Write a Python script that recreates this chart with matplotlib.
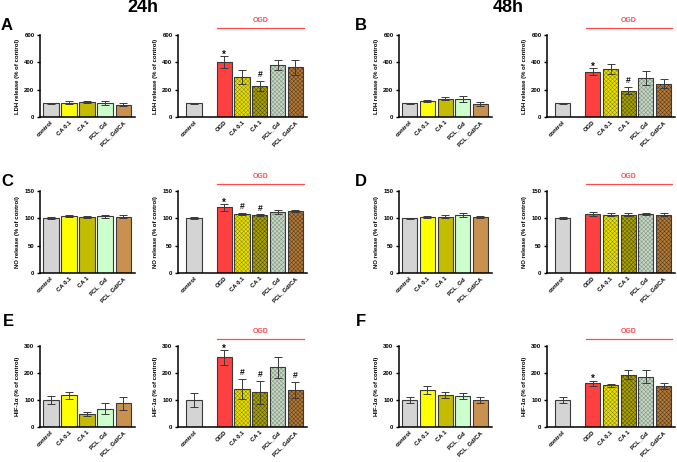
import matplotlib
matplotlib.use("Agg")
import matplotlib.pyplot as plt
import numpy as np
from matplotlib.transforms import blended_transform_factory

plt.rcParams['font.family'] = ['Liberation Sans', 'DejaVu Sans']
plt.rcParams['font.weight'] = 'bold'
plt.rcParams['hatch.linewidth'] = 0.35

# ---------------- data ----------------
groups_left = ["control", "CA 0.1", "CA 1", "PCL_Gd", "PCL_Gd/CA"]
groups_right = ["control", "OGD", "CA 0.1", "CA 1", "PCL_Gd", "PCL_Gd/CA"]

# LDH 24h
ldh24_mean = [100, 106, 110, 105, 90]
ldh24_err = [5, 12, 8, 15, 10]
ldh24_ogd_mean = [100, 400, 292, 228, 380, 363]
ldh24_ogd_err = [5, 45, 49, 38, 35, 57]
ldh24_ogd_marks = ["", "*", "", "#", "", ""]
# LDH 48h
ldh48_mean = [100, 118, 135, 132, 97]
ldh48_err = [5, 8, 8, 25, 13]
ldh48_ogd_mean = [100, 332, 352, 193, 283, 245]
ldh48_ogd_err = [5, 28, 38, 28, 50, 35]
ldh48_ogd_marks = ["", "*", "", "#", "", ""]
# NO 24h
no24_mean = [100, 104, 103, 104, 103]
no24_err = [2, 2, 2, 3, 3]
no24_ogd_mean = [100, 120, 108, 106, 112, 113]
no24_ogd_err = [2, 6, 2, 2, 4, 2]
no24_ogd_marks = ["", "*", "#", "#", "", ""]
# NO 48h
no48_mean = [100, 103, 103, 106, 103]
no48_err = [1, 2, 3, 3, 2]
no48_ogd_mean = [100, 108, 107, 107, 108, 107]
no48_ogd_err = [2, 3, 2, 2, 2, 3]
no48_ogd_marks = ["", "", "", "", "", ""]
# HIF-1a 24h
hif24_mean = [100, 117, 48, 68, 88]
hif24_err = [13, 12, 8, 20, 24]
hif24_ogd_mean = [100, 258, 142, 128, 221, 138]
hif24_ogd_err = [27, 28, 37, 44, 39, 30]
hif24_ogd_marks = ["", "*", "#", "#", "", "#"]
# HIF-1a 48h
hif48_mean = [100, 137, 118, 115, 100]
hif48_err = [10, 14, 12, 10, 10]
hif48_ogd_mean = [100, 162, 155, 194, 187, 151]
hif48_ogd_err = [10, 10, 6, 17, 25, 11]
hif48_ogd_marks = ["", "*", "", "", "", ""]

ylabels = ["LDH release (% of control)", "NO release (% of control)", "HIF-1\u03b1 (% of control)"]
ylims = [600, 150, 300]
ysteps = [200, 50, 100]
panel_letters = ["A", "B", "C", "D", "E", "F"]
time_titles = ["24h", "48h"]

# ---------------- styles ----------------
colors_left = ["#d4d4d4", "#ffff00", "#c4bc00", "#ccffcc", "#c9914f"]
colors_right = ["#d4d4d4", "#ff4040", "#e8e000", "#a9a200", "#c5d8c5", "#b07a3c"]
hatch_right = [None, None, "#8a8400", "#555000", "#7d917d", "#5a3a12"]
edge_col = "#3a3a3a"
err_col = "#3a3a3a"
ogd_red = "#ff4b4b"

W, H = 677, 462
fig = plt.figure(figsize=(W / 100, H / 100), dpi=100)

def fx(px):
    return px / W

def fy(py):
    return 1 - py / H

rows = [(35, 117), (191, 273), (346, 427)]
cols_left = [(40, 135), (399, 492)]
cols_right = [(178, 307), (547, 675)]

data = [
    [(ldh24_mean, ldh24_err, ldh24_ogd_mean, ldh24_ogd_err, ldh24_ogd_marks),
     (ldh48_mean, ldh48_err, ldh48_ogd_mean, ldh48_ogd_err, ldh48_ogd_marks)],
    [(no24_mean, no24_err, no24_ogd_mean, no24_ogd_err, no24_ogd_marks),
     (no48_mean, no48_err, no48_ogd_mean, no48_ogd_err, no48_ogd_marks)],
    [(hif24_mean, hif24_err, hif24_ogd_mean, hif24_ogd_err, hif24_ogd_marks),
     (hif48_mean, hif48_err, hif48_ogd_mean, hif48_ogd_err, hif48_ogd_marks)],
]

tick_fs = 4.3
bw = 0.85

def style_axes(ax, r):
    ax.spines['top'].set_visible(False)
    ax.spines['right'].set_visible(False)
    ax.spines['left'].set_linewidth(1.1)
    ax.spines['bottom'].set_linewidth(1.1)
    ax.set_ylim(0, ylims[r])
    ax.set_yticks(np.arange(0, ylims[r] + 1, ysteps[r]))
    ax.tick_params(axis='y', labelsize=tick_fs, width=1.0, length=2.5, pad=1.5)
    ax.tick_params(axis='x', length=0, labelsize=tick_fs, pad=2)
    for lab in ax.get_yticklabels():
        lab.set_fontweight('bold')
    ax.set_ylabel(ylabels[r], fontsize=4.3, fontweight='bold', labelpad=3)
    ax.patch.set_alpha(0)

for r, (top, bot) in enumerate(rows):
    for c in range(2):
        mean_l, err_l, mean_r, err_r, marks = data[r][c]
        # left axes
        l0, l1 = cols_left[c]
        axl = fig.add_axes([fx(l0), fy(bot), fx(l1 - l0), (bot - top) / H])
        xl = np.arange(len(groups_left))
        axl.bar(xl, mean_l, width=bw, color=colors_left, edgecolor=edge_col, linewidth=0.8, zorder=2)
        axl.errorbar(xl, mean_l, yerr=err_l, fmt='none', ecolor=err_col, elinewidth=0.7,
                     capsize=3.0, capthick=0.7, zorder=3)
        axl.set_xlim(-0.6, 4.65)
        axl.set_xticks(xl)
        axl.set_xticklabels(groups_left, rotation=45, ha='right', va='top',
                            rotation_mode='anchor', fontweight='bold')
        style_axes(axl, r)

        # right axes
        r0, r1 = cols_right[c]
        axr = fig.add_axes([fx(r0), fy(bot), fx(r1 - r0), (bot - top) / H])
        xr = np.array([0, 1.7, 2.7, 3.7, 4.7, 5.7])
        axr.bar(xr, mean_r, width=bw, color=colors_right, edgecolor='none', linewidth=0, zorder=2)
        for i in range(len(xr)):
            if hatch_right[i] is not None:
                axr.bar(xr[i], mean_r[i], width=bw, color='none', edgecolor=hatch_right[i],
                        hatch='x' * 8, linewidth=0, zorder=2.2)
        axr.bar(xr, mean_r, width=bw, color='none', edgecolor=edge_col, linewidth=0.8, zorder=2.4)
        axr.errorbar(xr, mean_r, yerr=err_r, fmt='none', ecolor=err_col, elinewidth=0.7,
                     capsize=3.0, capthick=0.7, zorder=3)
        for i, m in enumerate(marks):
            if m:
                if m == '*':
                    off, fs = -2.6, 7
                else:
                    off, fs = 1.0, 6.2
                axr.annotate(m, (xr[i], mean_r[i] + err_r[i]), xytext=(0, off),
                             textcoords='offset points', ha='center', va='bottom',
                             fontsize=fs, fontweight='bold', color='#111111')
        axr.set_xlim(-0.9, 6.35)
        axr.set_xticks(xr)
        axr.set_xticklabels(groups_right, rotation=45, ha='right', va='top',
                            rotation_mode='anchor', fontweight='bold')
        style_axes(axr, r)
        # OGD bracket
        trans = blended_transform_factory(axr.transData, axr.transAxes)
        line_y = (bot - (top - 7)) / (bot - top)
        axr.plot([1.3, 6.2], [line_y, line_y], color=ogd_red, lw=0.9, transform=trans,
                 clip_on=False)
        axr.text(3.75, line_y + 0.05, "OGD", color=ogd_red, fontsize=5, fontweight='bold',
                 ha='center', va='bottom', transform=trans)

# panel letters
letter_pos = [(7, 26), (361, 26), (7, 181), (361, 181), (8, 321), (361, 321)]
for L, (px, py) in zip(panel_letters, letter_pos):
    fig.text(fx(px), fy(py), L, fontsize=12, fontweight='bold', ha='center', va='center')

fig.text(fx(143), fy(8), time_titles[0], fontsize=13, fontweight='bold', ha='center', va='center')
fig.text(fx(508), fy(8), time_titles[1], fontsize=13, fontweight='bold', ha='center', va='center')

fig.savefig("out.png", dpi=100, facecolor='white')
